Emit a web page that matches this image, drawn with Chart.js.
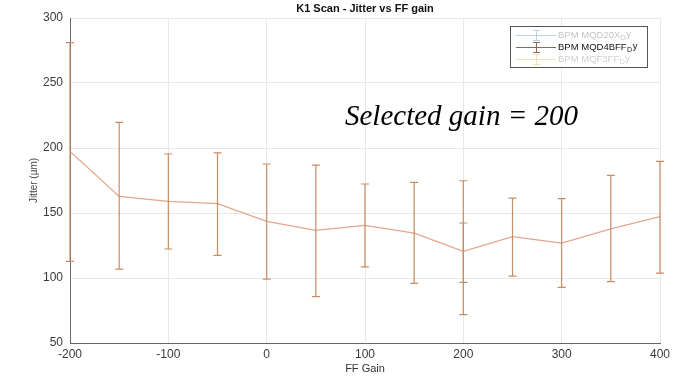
<!DOCTYPE html>
<html>
<head>
<meta charset="utf-8">
<script src="https://cdn.jsdelivr.net/npm/chart.js@4"></script>
<style>
  html, body { margin: 0; padding: 0; background: #fff; }
  #wrap { width: 676px; height: 378px; position: relative; }
</style>
</head>
<body>
<div id="wrap"><canvas id="chart"></canvas></div>
<script>
// FF gain scan values
const gains = [-200, -150, -100, -50, 0, 50, 100, 150, 200, 250, 300, 350, 400];
const jitter = [197.4, 162.8, 158.9, 157.2, 143.5, 136.6, 140.5, 134.6, 120.5, 131.8, 126.9, 137.7, 147.2];
const jitterHigh = [281, 219.7, 195.4, 196.2, 187.7, 186.9, 172.3, 173.5, 174.8, 161.5, 161, 178.9, 189.7];
const jitterLow = [112.8, 106.9, 122.3, 117.4, 99.2, 85.6, 108.5, 95.9, 71.8, 101.5, 92.8, 97.2, 103.8];
// second, shorter bar drawn on top at gain 200
const extraGains = [200];
const extraHigh = [142.3];
const extraLow = [96.6];

const xTicks = [-200, -100, 0, 100, 200, 300, 400];
const yTicks = [50, 100, 150, 200, 250, 300];
const legendNames = ['BPM MQD20X', 'BPM MQD4BFF', 'BPM MQF3FF'];

const lineColor = '#e3a78c';
const barColor = '#c98b62';

const errorBars = {
  id: 'errorBars',
  afterDatasetsDraw(chart) {
    const { ctx, scales: { x, y } } = chart;
    ctx.save();
    ctx.strokeStyle = barColor;
    ctx.lineWidth = 1.2;
    const draw = (g, hi, lo) => {
      const px = x.getPixelForValue(g);
      const top = y.getPixelForValue(hi);
      const bot = y.getPixelForValue(lo);
      ctx.beginPath();
      ctx.moveTo(px, top); ctx.lineTo(px, bot);
      ctx.moveTo(px - 4, top); ctx.lineTo(px + 4, top);
      ctx.moveTo(px - 4, bot); ctx.lineTo(px + 4, bot);
      ctx.stroke();
    };
    gains.forEach((g, i) => draw(g, jitterHigh[i], jitterLow[i]));
    extraGains.forEach((g, i) => draw(g, extraHigh[i], extraLow[i]));
    ctx.restore();
  }
};

const decorations = {
  id: 'decorations',
  afterDraw(chart) {
    const ctx = chart.ctx;
    ctx.save();

    // title
    ctx.fillStyle = '#111';
    ctx.font = "bold 11px 'Liberation Sans', Arial, sans-serif";
    ctx.textAlign = 'center';
    ctx.textBaseline = 'middle';
    ctx.fillText('K1 Scan - Jitter vs FF gain', 365, 9);

    // legend box
    const bx = 510, by = 26, bw = 137, bh = 41;
    ctx.fillStyle = '#fff';
    ctx.fillRect(bx, by, bw, bh);
    ctx.strokeStyle = '#555';
    ctx.lineWidth = 1;
    ctx.strokeRect(bx + 0.5, by + 0.5, bw, bh);

    const rows = [
      { y: by + 9, line: '#b9d3e6', text: '#c4c4c4' },
      { y: by + 21, line: '#8a6a55', text: '#111' },
      { y: by + 33, line: '#f3e2b8', text: '#cfcfcf' }
    ];
    rows.forEach((r, i) => {
      ctx.strokeStyle = r.line;
      ctx.lineWidth = 1;
      ctx.beginPath();
      ctx.moveTo(bx + 6, r.y + 0.5); ctx.lineTo(bx + 46, r.y + 0.5);
      ctx.moveTo(bx + 26.5, r.y - 5); ctx.lineTo(bx + 26.5, r.y + 5);
      ctx.moveTo(bx + 23, r.y - 4.5); ctx.lineTo(bx + 30, r.y - 4.5);
      ctx.moveTo(bx + 23, r.y + 5.5); ctx.lineTo(bx + 30, r.y + 5.5);
      ctx.stroke();

      ctx.fillStyle = r.text;
      ctx.textAlign = 'left';
      ctx.textBaseline = 'middle';
      ctx.font = "9.5px 'Liberation Sans', Arial, sans-serif";
      const tx = bx + 48;
      ctx.fillText(legendNames[i], tx, r.y);
      const w = ctx.measureText(legendNames[i]).width;
      ctx.font = "7px 'Liberation Sans', Arial, sans-serif";
      ctx.fillText('D', tx + w + 0.5, r.y + 3);
      const w2 = ctx.measureText('D').width;
      ctx.font = "9.5px 'Liberation Sans', Arial, sans-serif";
      ctx.fillText('y', tx + w + w2 + 1, r.y - 1);
    });

    // annotation
    ctx.fillStyle = '#000';
    ctx.font = "italic 29px 'Liberation Serif', 'Times New Roman', serif";
    ctx.textAlign = 'left';
    ctx.textBaseline = 'alphabetic';
    ctx.fillText('Selected gain = 200', 345, 125);

    ctx.restore();
  }
};

new Chart(document.getElementById('chart'), {
  type: 'scatter',
  data: {
    datasets: [{
      label: 'BPM MQD4BFF',
      data: gains.map((g, i) => ({ x: g, y: jitter[i] })),
      showLine: true,
      borderColor: lineColor,
      borderWidth: 1.3,
      pointRadius: 0,
      tension: 0
    }]
  },
  options: {
    responsive: true,
    maintainAspectRatio: false,
    animation: false,
    layout: { padding: { top: 18, right: 16, left: 28, bottom: 0 } },
    plugins: {
      legend: { display: false },
      tooltip: { enabled: false }
    },
    scales: {
      x: {
        type: 'linear',
        min: -200,
        max: 400,
        afterBuildTicks: s => { s.ticks = xTicks.map(v => ({ value: v })); },
        afterFit: s => { s.height = 35; },
        grid: { color: '#e8e8e8', drawTicks: false },
        border: { color: '#666', width: 1 },
        ticks: {
          padding: 4,
          color: '#3a3a3a',
          maxRotation: 0,
          font: { family: "'Liberation Sans', Arial, sans-serif", size: 12 }
        },
        title: {
          display: true,
          text: 'FF Gain',
          color: '#333',
          padding: { top: 0, bottom: 2 },
          font: { family: "'Liberation Sans', Arial, sans-serif", size: 11 }
        }
      },
      y: {
        min: 50,
        max: 300,
        afterBuildTicks: s => { s.ticks = yTicks.map(v => ({ value: v })); },
        afterFit: s => { s.width = 42; },
        grid: { color: '#e8e8e8', drawTicks: false },
        border: { color: '#666', width: 1 },
        ticks: {
          padding: 7,
          color: '#3a3a3a',
          font: { family: "'Liberation Sans', Arial, sans-serif", size: 12 }
        },
        title: {
          display: true,
          text: 'Jitter (µm)',
          color: '#444',
          padding: { top: 0, bottom: 0 },
          font: { family: "'Liberation Sans', Arial, sans-serif", size: 10 }
        }
      }
    }
  },
  plugins: [errorBars, decorations]
});
</script>
</body>
</html>
